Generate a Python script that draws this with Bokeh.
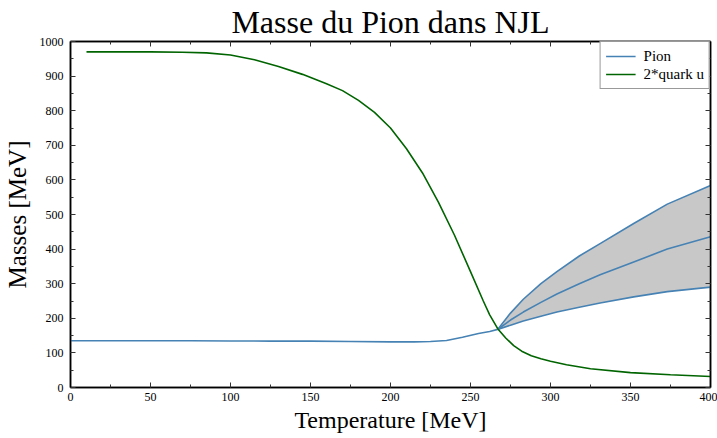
from bokeh.plotting import figure
from bokeh.models import LinearAxis, Legend, LegendItem, Range1d, FixedTicker, CustomJSTickFormatter
from bokeh.embed import file_html
from bokeh.resources import INLINE

# Pion mass below the branching point
T_pion = [0, 25, 50, 75, 100, 125, 150, 175, 200, 215, 225, 235, 245, 255, 262, 267]
M_pion = [135, 135, 135, 135, 134.5, 134, 134, 133, 132, 132, 133, 136, 145, 156, 162, 168]

# Branches above the branching point (upper, middle, lower)
T_branch = [267, 275, 283, 294, 304, 318, 331, 352, 373, 400]
M_upper = [168, 215, 255, 300, 335, 380, 416, 474, 530, 584]
M_middle = [168, 195, 218, 246, 270, 300, 326, 363, 400, 436]
M_lower = [168, 180, 192, 206, 218, 232, 244, 262, 277, 290]

# 2 * quark u mass
T_quark = [10, 30, 50, 70, 85, 100, 115, 130, 145, 160, 170, 180, 190, 200, 210, 220, 230,
           240, 250, 258, 262, 267, 272, 277, 282, 288, 294, 300, 310, 325, 350, 375, 400]
M_quark = [970, 970, 970, 969, 967, 961, 947, 928, 905, 878, 858, 830, 795, 750, 690, 620, 535,
           440, 335, 250, 210, 170, 143, 121, 105, 92, 83, 76, 66, 54, 43, 37, 32]

x_ticks = [0, 50, 100, 150, 200, 250, 300, 350, 400]
y_ticks = [0, 100, 200, 300, 400, 500, 600, 700, 800, 900, 1000]

SERIF = "Liberation Serif"
PION = "#4682b4"
QUARK = "#006400"

p = figure(frame_width=640, frame_height=346, output_backend="svg", toolbar_location=None,
           x_range=Range1d(0, 400), y_range=Range1d(0, 1000),
           title="Masse du Pion dans NJL",
           x_axis_label="Temperature [MeV]", y_axis_label="Masses [MeV]")
p.min_border_left = 62
p.min_border_right = 7
p.min_border_top = 33
p.min_border_bottom = 0
p.title.text_font = SERIF
p.title.text_font_size = "32px"
p.title.text_font_style = "normal"
p.title.text_color = "black"
p.title.align = "center"
p.title.standoff = 3
p.grid.visible = False
p.outline_line_color = "black"
p.outline_line_width = 1.5
p.background_fill_color = "white"
p.border_fill_color = "white"

def style_axis(ax, labels=True):
    ax.axis_line_color = "black"
    ax.axis_line_width = 1.5
    ax.major_tick_in = 5
    ax.major_tick_out = 0
    ax.minor_tick_in = 3
    ax.minor_tick_out = 0
    ax.major_tick_line_color = "#333333"
    ax.minor_tick_line_color = "#333333"
    ax.major_label_text_font = SERIF
    ax.major_label_text_font_size = "12px"
    ax.major_label_text_color = "black"
    ax.major_label_standoff = 7
    ax.axis_label_text_font = SERIF
    ax.axis_label_text_font_size = "25px"
    ax.axis_label_text_font_style = "normal"
    ax.axis_label_text_color = "black"
    ax.axis_label_standoff = 6
    if not labels:
        ax.formatter = CustomJSTickFormatter(code="return ''")
        ax.major_label_standoff = 0

p.xaxis.ticker = FixedTicker(ticks=x_ticks, minor_ticks=list(range(0, 401, 25)))
p.yaxis.ticker = FixedTicker(ticks=y_ticks, minor_ticks=list(range(0, 1001, 50)))
style_axis(p.xaxis[0])
style_axis(p.yaxis[0])
p.xaxis[0].axis_label_standoff = 3
p.xaxis[0].axis_label_text_font_size = "24px"
p.xaxis[0].major_label_standoff = 5

top = LinearAxis(ticker=FixedTicker(ticks=x_ticks, minor_ticks=list(range(0, 401, 25))))
style_axis(top, labels=False)
p.add_layout(top, "above")
right = LinearAxis(ticker=FixedTicker(ticks=y_ticks, minor_ticks=list(range(0, 1001, 50))))
style_axis(right, labels=False)
p.add_layout(right, "right")

p.varea(x=T_branch, y1=M_lower, y2=M_upper, fill_color="#c8c8c8", fill_alpha=1.0)
r_pion = p.line(T_pion, M_pion, line_color=PION, line_width=1.6)
p.line(T_branch, M_upper, line_color=PION, line_width=1.6)
p.line(T_branch, M_middle, line_color=PION, line_width=1.6)
p.line(T_branch, M_lower, line_color=PION, line_width=1.6)
r_quark = p.line(T_quark, M_quark, line_color=QUARK, line_width=1.6)

legend = Legend(items=[LegendItem(label="Pion", renderers=[r_pion]),
                       LegendItem(label="2*quark u", renderers=[r_quark])],
                location="top_right")
legend.margin = 0
legend.padding = 5
legend.spacing = 0
legend.glyph_width = 30
legend.glyph_height = 18
legend.label_text_font = SERIF
legend.label_text_font_size = "15px"
legend.label_text_color = "black"
legend.label_height = 18
legend.label_standoff = 8
legend.border_line_color = "#333333"
legend.border_line_width = 1
legend.background_fill_alpha = 1
p.add_layout(legend)

open("out.html", "w").write(file_html(p, INLINE))
